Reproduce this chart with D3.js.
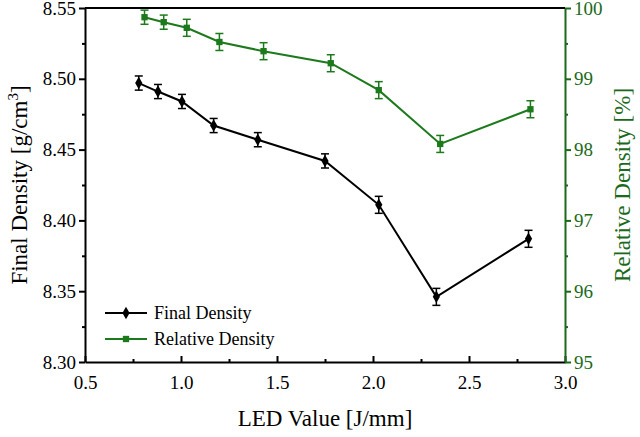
<!DOCTYPE html><html><head><meta charset="utf-8">
<script src="https://d3js.org/d3.v7.min.js"></script>
<style>body{margin:0;background:#fff}svg text{font-family:'Liberation Serif','Times New Roman','DejaVu Serif',serif !important}</style></head><body>
<script>
const led=[0.78,0.88,1.005,1.17,1.40,1.75,2.03,2.33,2.81];
const ledRel=[0.81,0.91,1.03,1.20,1.43,1.78,2.03,2.35,2.82];
const finalDensity=[8.497,8.491,8.484,8.467,8.457,8.442,8.411,8.346,8.387];
const finalErr=[0.005,0.005,0.005,0.005,0.005,0.005,0.006,0.006,0.006];
const relDensity=[99.87,99.80,99.72,99.52,99.39,99.22,98.84,98.08,98.57];
const relErr=[0.1,0.1,0.12,0.12,0.12,0.12,0.12,0.12,0.12];
const xTicks=[0.5,1.0,1.5,2.0,2.5,3.0];
const yTicks=[8.30,8.35,8.40,8.45,8.50,8.55];
const y2Ticks=[95,96,97,98,99,100];
const W=640,H=437,L=85,R=565,T=8,B=362;
const G="#1c7a1c",GD="#1a6a1a",FF="Liberation Serif, Times New Roman, serif";
const svg=d3.select("body").append("svg").attr("width",W).attr("height",H).attr("font-family",FF);
const x=d3.scaleLinear().domain([0.5,3.0]).range([L,R]);
const y=d3.scaleLinear().domain([8.30,8.55]).range([B,T]);
const y2=d3.scaleLinear().domain([95,100]).range([B,T]);
function style(g,c){g.attr("font-family",FF);g.selectAll("path,line").attr("stroke",c).attr("stroke-width",2);g.selectAll("text").attr("fill",c).attr("font-size",19);}
const gx=svg.append("g").attr("transform",`translate(0,${B})`).call(d3.axisBottom(x).tickValues(xTicks).tickFormat(d3.format(".1f")).tickSizeInner(-6).tickSizeOuter(0).tickPadding(14));
svg.append("g").attr("transform",`translate(0,${B})`).call(d3.axisBottom(x).tickValues(d3.range(0.75,3,0.5)).tickFormat("").tickSizeInner(-3).tickSizeOuter(0)).call(g=>{g.select(".domain").remove();style(g,"#000")});
style(gx,"#000");
const gy=svg.append("g").attr("transform",`translate(${L},0)`).call(d3.axisLeft(y).tickValues(yTicks).tickFormat(d3.format(".2f")).tickSizeInner(6).tickSizeOuter(0).tickPadding(3));
style(gy,"#000");
svg.append("g").attr("transform",`translate(${L},0)`).call(d3.axisLeft(y).tickValues(d3.range(8.325,8.55,0.05)).tickFormat("").tickSizeInner(3).tickSizeOuter(0)).call(g=>{g.select(".domain").remove();style(g,"#000")});
const gy2=svg.append("g").attr("transform",`translate(${R},0)`).call(d3.axisRight(y2).tickValues(y2Ticks).tickFormat(d3.format("d")).tickSizeInner(6).tickSizeOuter(0).tickPadding(3));
style(gy2,GD);
svg.append("g").attr("transform",`translate(${R},0)`).call(d3.axisRight(y2).tickValues(d3.range(95.5,100,1)).tickFormat("").tickSizeInner(3).tickSizeOuter(0)).call(g=>{g.select(".domain").remove();style(g,GD)});
svg.append("line").attr("x1",L).attr("x2",R).attr("y1",T).attr("y2",T).attr("stroke","#000").attr("stroke-width",2);
function series(xs,ys,es,sc,col,marker){
 const pts=xs.map((v,i)=>[x(v),sc(ys[i]),es[i],ys[i]]);
 svg.append("path").attr("d",d3.line()(pts.map(p=>[p[0],p[1]]))).attr("fill","none").attr("stroke",col).attr("stroke-width",2);
 pts.forEach(p=>{const a=sc(p[3]+p[2]),b=sc(p[3]-p[2]);
  svg.append("line").attr("x1",p[0]).attr("x2",p[0]).attr("y1",a).attr("y2",b).attr("stroke",col).attr("stroke-width",1.5);
  [a,b].forEach(v=>svg.append("line").attr("x1",p[0]-4).attr("x2",p[0]+4).attr("y1",v).attr("y2",v).attr("stroke",col).attr("stroke-width",1.5));
 });
 svg.selectAll(null).data(pts).enter().append("path").attr("transform",p=>`translate(${p[0]},${p[1]})`).attr("d",marker).attr("fill",col);
}
const diamond=d3.symbol(d3.symbolDiamond,45)(), square=d3.symbol(d3.symbolSquare,40)();
series(ledRel,relDensity,relErr,y2,G,square);
series(led,finalDensity,finalErr,y,"#000",diamond);
[[313,"#000",diamond,"Final Density"],[339,G,square,"Relative Density"]].forEach(([yy,c,m,t])=>{
 svg.append("line").attr("x1",105).attr("x2",147).attr("y1",yy).attr("y2",yy).attr("stroke",c).attr("stroke-width",2);
 svg.append("path").attr("d",m).attr("transform",`translate(126,${yy})`).attr("fill",c);
 svg.append("text").attr("x",154).attr("y",yy+6).attr("font-size",18).text(t);
});
svg.append("text").attr("x",(L+R)/2).attr("y",426).attr("text-anchor","middle").attr("font-size",23).text("LED Value [J/mm]");
const t1=svg.append("text").attr("transform","translate(27,185) rotate(-90)").attr("text-anchor","middle").attr("font-size",23);
t1.append("tspan").text("Final Density [g/cm");t1.append("tspan").attr("font-size",15).attr("dy",-9).text("3");t1.append("tspan").attr("dy",9).text("]");
svg.append("text").attr("transform","translate(630,185) rotate(-90)").attr("text-anchor","middle").attr("font-size",23).attr("fill",GD).text("Relative Density [%]");
</script></body></html>
